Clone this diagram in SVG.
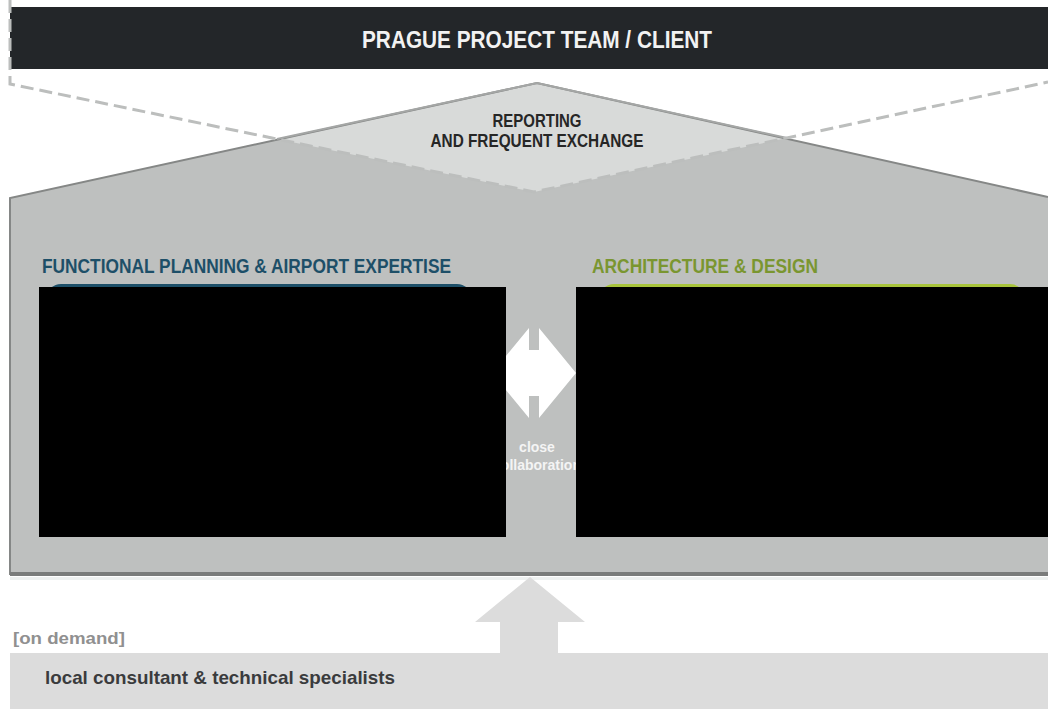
<svg xmlns="http://www.w3.org/2000/svg" width="1048" height="709" viewBox="0 0 1048 709">
  <style>
    .cond { font-family: "Liberation Sans Narrow", "Liberation Sans", Arial, sans-serif; font-weight: bold; }
    .head { font-size: 21px; }
    .dash { fill: none; stroke: #bcbebd; stroke-width: 3; stroke-dasharray: 13 6; }
    .roofline { fill: none; stroke: #858786; stroke-width: 2; }
  </style>
  <rect width="1048" height="709" fill="#ffffff"/>

  <!-- client bar -->
  <g id="client">
    <rect x="10" y="7" width="1038" height="62" fill="#232629"/>
    <text class="cond" x="537" y="48" font-size="23" fill="#f2f2f2" text-anchor="middle" textLength="350" lengthAdjust="spacingAndGlyphs">PRAGUE PROJECT TEAM / CLIENT</text>
  </g>

  <!-- house body with roof -->
  <g id="house">
    <polygon points="10,198 537,83 1048,197 1048,575 10,575" fill="#bec0bf"/>
    <polygon points="277,139 537,83 787,138 534,192" fill="#d8dad9"/>
    <polyline class="roofline" points="10,575 10,198 537,83 1048,197"/>
    <polyline points="277,139 537,83 787,138" fill="none" stroke="#a4a6a5" stroke-width="2"/>
    <line x1="10" y1="574" x2="1048" y2="574" stroke="#7a7c7b" stroke-width="4"/>
    <rect x="10" y="577" width="1038" height="3" fill="#eef1f0"/>
  </g>

  <!-- reporting exchange -->
  <g id="reporting">
    <text class="cond" x="537" y="127" font-size="18" fill="#262626" text-anchor="middle" textLength="89" lengthAdjust="spacingAndGlyphs">REPORTING</text>
    <text class="cond" x="537" y="147" font-size="18" fill="#262626" text-anchor="middle" textLength="213" lengthAdjust="spacingAndGlyphs">AND FREQUENT EXCHANGE</text>
  </g>

  <!-- functional planning -->
  <g id="functional">
    <text class="cond head" x="42" y="273" fill="#1d4f68" textLength="409" lengthAdjust="spacingAndGlyphs">FUNCTIONAL PLANNING &amp; AIRPORT EXPERTISE</text>
    <rect x="47" y="284" width="424" height="60" rx="14" fill="#1d4f68"/>
  </g>

  <!-- architecture & design -->
  <g id="architecture">
    <text class="cond head" x="592" y="273" fill="#7a9630" textLength="226" lengthAdjust="spacingAndGlyphs">ARCHITECTURE &amp; DESIGN</text>
    <rect x="600" y="284" width="424" height="60" rx="14" fill="#a8c43c"/>
  </g>

  <!-- collaboration link -->
  <g id="collaboration">
    <polygon points="492,373 529,328 529,350 539,350 539,328 576,373 539,418 539,396 529,396 529,418" fill="#ffffff"/>
    <text class="cond" x="537" y="452" font-size="14" fill="#f4f4f4" text-anchor="middle">close</text>
    <text class="cond" x="537" y="470" font-size="14" fill="#f4f4f4" text-anchor="middle">collaboration</text>
  </g>

  <!-- redaction panels -->
  <g id="panels">
    <rect x="39" y="287" width="467" height="250" fill="#000000"/>
    <rect x="576" y="287" width="472" height="250" fill="#000000"/>
  </g>

  <!-- local consultants -->
  <g id="local">
    <text class="cond" x="13" y="644" font-size="17" fill="#909090" textLength="112" lengthAdjust="spacingAndGlyphs">[on demand]</text>
    <rect x="10" y="653" width="1038" height="56" fill="#dcdcdc"/>
    <text class="cond" x="45" y="684" font-size="19" fill="#3a3b3d" textLength="350" lengthAdjust="spacingAndGlyphs">local consultant &amp; technical specialists</text>
  </g>

  <!-- connectors -->
  <g id="connectors">
    <path class="dash" d="M10,0 V84 L534,192 L1048,82"/>
    <polygon points="530,577 585,622 558,622 558,654 500,654 500,622 475,622" fill="#dcdcdc"/>
  </g>
</svg>
